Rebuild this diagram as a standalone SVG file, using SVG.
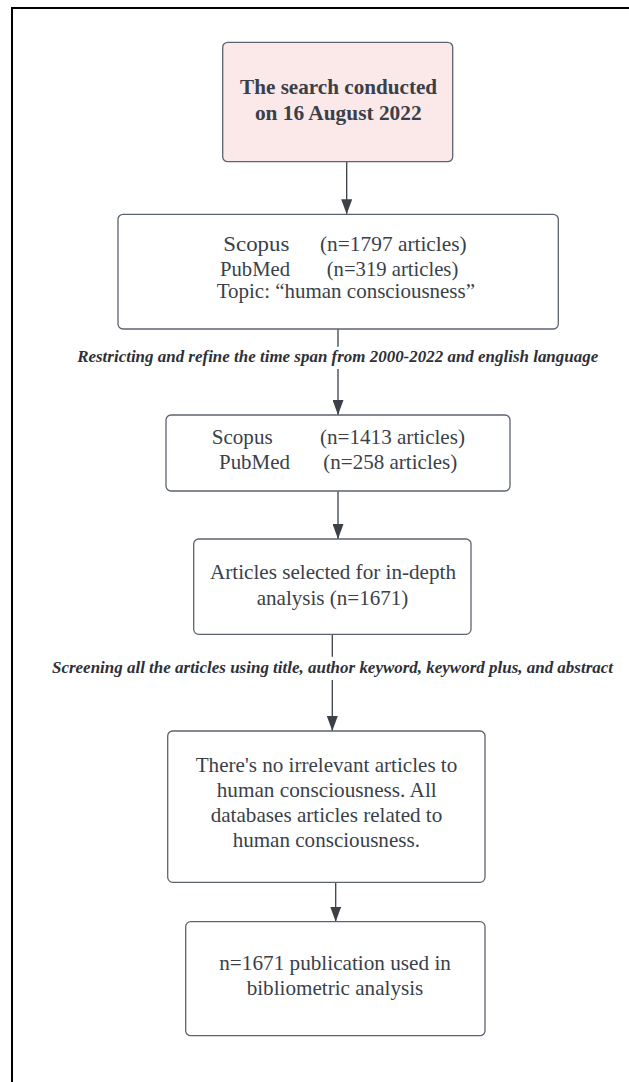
<svg xmlns="http://www.w3.org/2000/svg" width="629" height="1082" viewBox="0 0 629 1082">
<defs>
<style>
.box{fill:#ffffff;stroke:#5c6370;stroke-width:1.3}
.start{fill:#fbe8e8;stroke:#5c6370;stroke-width:1.3}
.t{font-family:"Liberation Serif","Times New Roman",serif;font-size:21.5px;fill:#3a3f4a}
.tb{font-family:"Liberation Serif","Times New Roman",serif;font-size:21px;font-weight:bold;fill:#3a3f4a;text-anchor:middle}
.c{text-anchor:middle}
.lbl{font-family:"Liberation Serif","Times New Roman",serif;font-size:17px;font-weight:bold;font-style:italic;fill:#2e3038;text-anchor:middle}
.conn{stroke:#3b4049;stroke-width:1.3;fill:none}
</style>
<marker id="ah" viewBox="0 0 15 11" refX="15" refY="5.5" markerWidth="15" markerHeight="11" orient="auto" markerUnits="userSpaceOnUse">
<path d="M0,0 L15,5.5 L0,11 z" fill="#3b4049"/>
</marker>
</defs>
<rect x="0" y="0" width="629" height="1082" fill="#ffffff"/>
<path d="M12 1082 V8 H629" fill="none" stroke="#000000" stroke-width="2"/>

<g id="connectors">
<line class="conn" x1="346.7" y1="161.7" x2="346.7" y2="214.3" marker-end="url(#ah)"/>
<line class="conn" x1="338" y1="329" x2="338" y2="346.7"/>
<line class="conn" x1="338" y1="369" x2="338" y2="415" marker-end="url(#ah)"/>
<line class="conn" x1="338" y1="491" x2="338" y2="539" marker-end="url(#ah)"/>
<line class="conn" x1="332.3" y1="634.3" x2="332.3" y2="656.7"/>
<line class="conn" x1="332.3" y1="680" x2="332.3" y2="731" marker-end="url(#ah)"/>
<line class="conn" x1="335.7" y1="882.3" x2="335.7" y2="921.7" marker-end="url(#ah)"/>
<text class="lbl" x="337.7" y="361.7" textLength="521" lengthAdjust="spacingAndGlyphs">Restricting and refine the time span from 2000-2022 and english language</text>
<text class="lbl" x="332.5" y="672.7" textLength="561" lengthAdjust="spacingAndGlyphs">Screening all the articles using title, author keyword, keyword plus, and abstract</text>
</g>

<g id="search">
<rect class="start" x="222.7" y="42.3" width="230" height="119.4" rx="5"/>
<text class="tb" x="338.6" y="94.3" textLength="197" lengthAdjust="spacingAndGlyphs">The search conducted</text>
<text class="tb" x="338.3" y="120" textLength="166.7" lengthAdjust="spacingAndGlyphs">on 16 August 2022</text>
</g>

<g id="initial">
<rect class="box" x="118" y="214.3" width="440.3" height="114.7" rx="5"/>
<text class="t" x="223.3" y="251.3" textLength="66" lengthAdjust="spacingAndGlyphs">Scopus</text>
<text class="t" x="320" y="251.3" textLength="146.7" lengthAdjust="spacingAndGlyphs">(n=1797 articles)</text>
<text class="t" x="220" y="275.7" textLength="70" lengthAdjust="spacingAndGlyphs">PubMed</text>
<text class="t" x="326.7" y="275.7" textLength="131.6" lengthAdjust="spacingAndGlyphs">(n=319 articles)</text>
<text class="t" x="216.7" y="298" textLength="258.3" lengthAdjust="spacingAndGlyphs">Topic: “human consciousness”</text>
</g>

<g id="refined">
<rect class="box" x="166" y="415" width="344" height="76" rx="5"/>
<text class="t" x="211.7" y="444" textLength="61" lengthAdjust="spacingAndGlyphs">Scopus</text>
<text class="t" x="320" y="444" textLength="145" lengthAdjust="spacingAndGlyphs">(n=1413 articles)</text>
<text class="t" x="219" y="469" textLength="71" lengthAdjust="spacingAndGlyphs">PubMed</text>
<text class="t" x="323.3" y="469" textLength="134" lengthAdjust="spacingAndGlyphs">(n=258 articles)</text>
</g>

<g id="selected">
<rect class="box" x="193.7" y="539" width="277.3" height="95.3" rx="5"/>
<text class="t c" x="333" y="579" textLength="246" lengthAdjust="spacingAndGlyphs">Articles selected for in-depth</text>
<text class="t c" x="332.5" y="605" textLength="151.6" lengthAdjust="spacingAndGlyphs">analysis (n=1671)</text>
</g>

<g id="screening">
<rect class="box" x="167.7" y="731" width="317.3" height="151.3" rx="5"/>
<text class="t c" x="326.5" y="771.7" textLength="261.6" lengthAdjust="spacingAndGlyphs">There's no irrelevant articles to</text>
<text class="t c" x="326.7" y="796.7" textLength="220" lengthAdjust="spacingAndGlyphs">human consciousness. All</text>
<text class="t c" x="326.5" y="821.7" textLength="231.6" lengthAdjust="spacingAndGlyphs">databases articles related to</text>
<text class="t c" x="326.3" y="847.3" textLength="187.3" lengthAdjust="spacingAndGlyphs">human consciousness.</text>
</g>

<g id="final">
<rect class="box" x="185.7" y="921.7" width="299.3" height="114" rx="5"/>
<text class="t c" x="335.1" y="970" textLength="231.7" lengthAdjust="spacingAndGlyphs">n=1671 publication used in</text>
<text class="t c" x="335" y="995" textLength="176.6" lengthAdjust="spacingAndGlyphs">bibliometric analysis</text>
</g>
</svg>
